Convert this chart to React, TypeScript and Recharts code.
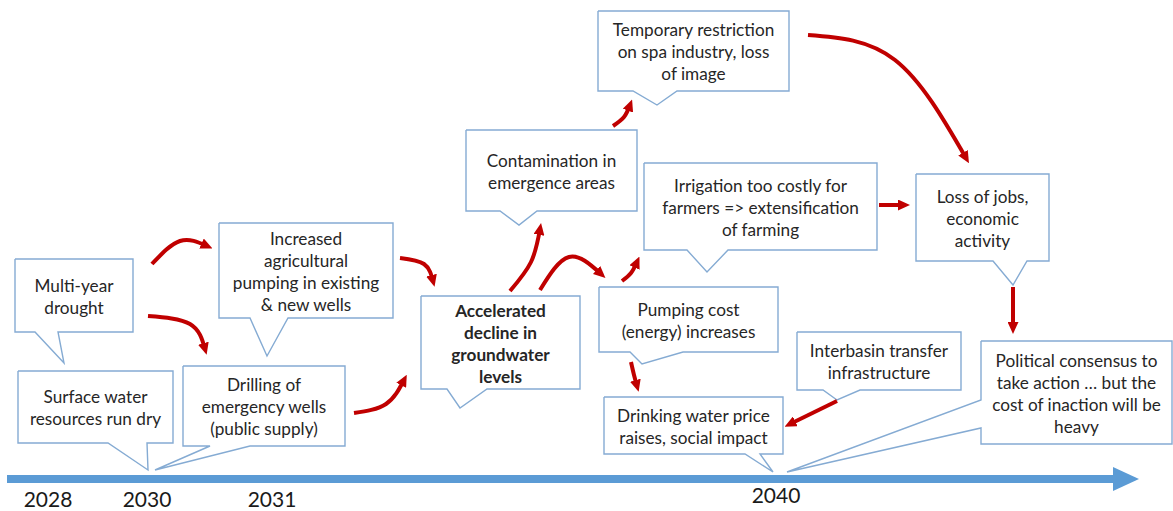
import { ComposedChart, Line, Scatter, XAxis, YAxis } from 'recharts';

document.body.style.margin = '0';

// diagram units == pixels of the original slide (1173 x 511)
const calloutLabels: string[][] = [
  ['Multi-year', 'drought'],
  ['Surface water', 'resources run dry'],
  ['Drilling of', 'emergency wells', '(public supply)'],
  ['Increased', 'agricultural', 'pumping in existing', '& new wells'],
  ['Accelerated', 'decline in', 'groundwater', 'levels'],
  ['Contamination in', 'emergence areas'],
  ['Temporary restriction', 'on spa industry, loss', 'of image'],
  ['Irrigation too costly for', 'farmers => extensification', 'of farming'],
  ['Loss of jobs,', 'economic', 'activity'],
  ['Pumping cost', '(energy) increases'],
  ['Drinking water price', 'raises, social impact'],
  ['Interbasin transfer', 'infrastructure'],
  ['Political consensus to', 'take action \u2026 but the', 'cost of inaction will be', 'heavy'],
];

// [left, top, right, bottom]
const calloutBounds = [
  [15, 259, 133, 332],
  [18, 371, 173, 443],
  [183, 366, 345, 446],
  [219, 223, 393, 318],
  [421, 296, 580, 389],
  [466, 130, 637, 211],
  [598, 11, 789, 91],
  [644, 163, 877, 250],
  [916, 174, 1049, 261],
  [599, 287, 778, 352],
  [604, 397, 783, 454],
  [797, 332, 961, 390],
  [981, 341, 1172, 444],
];

// [side, baseA, baseB, tipX, tipY]
const calloutTails: [string, number, number, number, number][] = [
  ['b', 35, 58, 64, 363],
  ['b', 108, 147, 148, 470],
  ['b', 210, 250, 155, 470],
  ['b', 250, 288, 267, 356],
  ['b', 447, 487, 460, 408],
  ['b', 500, 537, 519, 225],
  ['b', 633, 677, 657, 105],
  ['b', 687, 728, 707, 272],
  ['b', 993, 1027, 1013, 285],
  ['b', 630, 683, 642, 364],
  ['b', 745, 760, 773, 472],
  ['b', 823, 860, 837, 400],
  ['l', 400, 428, 787, 472],
];

const boldCallout = 4;

// red cause/effect arrows: start, bend, end
const arrowPaths = [
  [[152, 264], [180, 241], [207, 246]],
  [[148, 316], [190, 324], [205, 349]],
  [[400, 258], [424, 264], [433, 281]],
  [[354, 413], [386, 404], [404, 380]],
  [[510, 291], [531, 262], [540, 229]],
  [[540, 290], [569, 257], [601, 274]],
  [[622, 281], [631, 273], [637, 262]],
  [[613, 126], [624, 117], [630, 105]],
  [[808, 35], [895, 60], [966, 158]],
  [[879, 205], [904, 205]],
  [[1013, 287], [1013, 328]],
  [[631, 362], [634, 375], [637, 386]],
  [[837, 401], [790, 424]],
];

const timelineX = [7, 1116];
const timelineY = 479;

const yearLabels = ['2028', '2030', '2031', '2040'];
const yearX = [48, 147, 272, 776];
const yearY = [507, 507, 507, 503];

const outline = (i: number) => {
  const [x0, y0, x1, y1] = calloutBounds[i];
  const [side, a, b, tx, ty] = calloutTails[i];
  const pts =
    side === 'b'
      ? [[x0, y0], [x1, y0], [x1, y1], [b, y1], [tx, ty], [a, y1], [x0, y1], [x0, y0]]
      : [[x0, y0], [x1, y0], [x1, y1], [x0, y1], [x0, b], [tx, ty], [x0, a], [x0, y0]];
  return pts.map(([x, y]) => ({ x, y }));
};

const labelData = calloutBounds.map(([x0, y0, x1, y1], i) => ({
  x: (x0 + x1) / 2,
  y: (y0 + y1) / 2,
  lines: calloutLabels[i],
  bold: i === boldCallout,
}));

const yearData = yearLabels.map((label, i) => ({ x: yearX[i], y: yearY[i], label }));

const FONT = 'Lato, "Open Sans", sans-serif';

const CalloutText = (props: any) => {
  const { cx, cy, payload } = props;
  const n = payload.lines.length;
  return (
    <text
      x={cx}
      y={cy - ((n - 1) * 22) / 2}
      textAnchor="middle"
      dominantBaseline="central"
      fontFamily={FONT}
      fontSize={17.2}
      fontWeight={payload.bold ? 700 : 400}
      fill="#262626"
    >
      {payload.lines.map((t: string, k: number) => (
        <tspan key={k} x={cx} dy={k === 0 ? 0 : 22}>
          {t}
        </tspan>
      ))}
    </text>
  );
};

const YearText = (props: any) => {
  const { cx, cy, payload } = props;
  return (
    <text x={cx} y={cy} textAnchor="middle" fontFamily={FONT} fontSize={21} fill="#1a1a1a">
      {payload.label}
    </text>
  );
};

export default function App() {
  return (
    <div style={{ width: 1173, height: 511, background: '#fff' }}>
      <ComposedChart width={1173} height={511} margin={{ top: 0, right: 0, bottom: 0, left: 0 }}>
        <defs>
          <marker id="redHead" viewBox="0 0 12 11" refX={6} refY={5.5} markerWidth={12} markerHeight={11} markerUnits="userSpaceOnUse" orient="auto">
            <path d="M0,0 L12,5.5 L0,11 z" fill="#c00000" />
          </marker>
          <marker id="blueHead" viewBox="0 0 26 24" refX={3} refY={12} markerWidth={26} markerHeight={24} markerUnits="userSpaceOnUse" orient="auto">
            <path d="M0,0 L26,12 L0,24 z" fill="#5b9bd5" />
          </marker>
        </defs>
        <XAxis type="number" dataKey="x" domain={[0, 1173]} hide allowDataOverflow />
        <YAxis type="number" dataKey="y" domain={[0, 511]} reversed hide allowDataOverflow />

        <Line
          data={timelineX.map((x) => ({ x, y: timelineY }))}
          dataKey="y"
          stroke="#5b9bd5"
          strokeWidth={8}
          dot={false}
          activeDot={false}
          markerEnd="url(#blueHead)"
          isAnimationActive={false}
        />

        {calloutBounds.map((_, i) => (
          <Line
            key={`box-${i}`}
            data={outline(i)}
            dataKey="y"
            type="linear"
            stroke="#85abd3"
            strokeWidth={1.4}
            dot={false}
            activeDot={false}
            isAnimationActive={false}
          />
        ))}

        {arrowPaths.map((p, i) => (
          <Line
            key={`arrow-${i}`}
            data={p.map(([x, y]) => ({ x, y }))}
            dataKey="y"
            type="natural"
            stroke="#c00000"
            strokeWidth={4}
            dot={false}
            activeDot={false}
            markerEnd="url(#redHead)"
            isAnimationActive={false}
          />
        ))}

        <Scatter data={labelData} dataKey="y" shape={CalloutText} isAnimationActive={false} />
        <Scatter data={yearData} dataKey="y" shape={YearText} isAnimationActive={false} />
      </ComposedChart>
    </div>
  );
}
